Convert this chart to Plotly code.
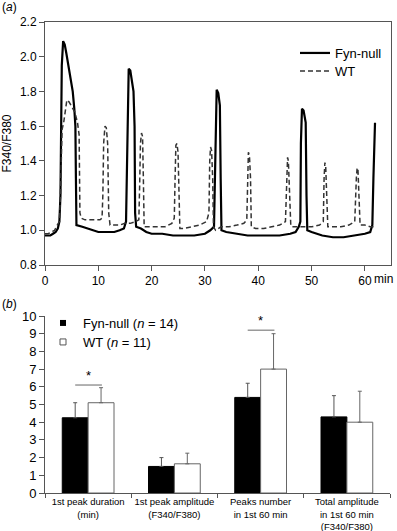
import plotly.graph_objects as go

# ---------------- data: panel (a) ----------------
time_fyn = [0, 0.5, 1, 1.5, 2, 2.4, 2.7, 2.9, 3.0, 3.15, 3.4, 3.7, 4.0, 4.4, 4.8, 5.2, 5.5, 5.7, 5.8, 5.9,
            7, 8, 9, 10, 11, 12, 13, 14, 14.8, 15.2, 15.4, 15.55, 15.7, 16.0, 16.3, 16.6, 16.8, 16.9, 17.1,
            18, 19, 20, 22, 24, 26, 28, 30, 31, 31.7, 31.95, 32.05, 32.2, 32.5, 32.8, 32.95, 33.1,
            34, 36, 38, 40, 42, 44, 46, 47, 47.6, 47.9, 48.0, 48.2, 48.5, 48.9, 49.05, 49.2,
            50, 52, 54, 56, 58, 60, 61, 61.4, 61.6, 61.9]
ratio_fyn = [0.97, 0.97, 0.97, 0.98, 0.99, 1.01, 1.05, 1.2, 1.6, 1.95, 2.09, 2.07, 2.02, 1.95, 1.88, 1.8, 1.7, 1.6, 1.3, 1.03,
             1.02, 1.01, 1.0, 0.99, 0.99, 0.99, 0.99, 1.0, 1.01, 1.05, 1.4, 1.88, 1.93, 1.92, 1.87, 1.8, 1.6, 1.1, 1.02,
             1.01, 0.99, 0.98, 0.98, 0.97, 0.97, 0.97, 0.98, 1.0, 1.02, 1.4, 1.75, 1.81, 1.79, 1.72, 1.3, 1.0,
             0.99, 0.98, 0.97, 0.97, 0.97, 0.97, 0.98, 0.99, 1.02, 1.05, 1.5, 1.70, 1.69, 1.62, 1.2, 1.0,
             0.99, 0.97, 0.96, 0.96, 0.97, 0.98, 0.99, 1.03, 1.3, 1.62]

time_wt = [0, 0.6, 1.2, 1.8, 2.3, 2.7, 2.9, 3.05, 3.2, 3.5, 3.8, 4.1, 4.5, 5.0, 5.6, 6.1, 6.4, 6.55, 6.8,
           7.5, 8.5, 9.5, 10.3, 10.7, 10.85, 11.0, 11.25, 11.5, 11.75, 11.95, 12.2, 13, 14, 15, 16, 17,
           17.6, 17.75, 17.9, 18.1, 18.3, 18.45, 18.6, 19.5, 21, 22.5, 23.8, 24.25, 24.4, 24.55, 24.75, 24.95,
           25.15, 25.3, 26, 27.5, 29, 30.3, 30.75, 30.9, 31.05, 31.25, 31.45, 31.6, 32, 33, 34.5, 36, 37.3,
           37.85, 38.0, 38.15, 38.35, 38.55, 38.7, 39.5, 41, 42.5, 44, 45.1, 45.35, 45.5, 45.65, 45.85, 46.1,
           46.3, 47, 48.5, 50, 51.5, 52.2, 52.35, 52.5, 52.65, 52.85, 53.05, 53.2, 54, 55.5, 57, 58.1, 58.4,
           58.55, 58.7, 58.9, 59.1, 59.25, 60, 61, 62]
ratio_wt = [0.98, 0.98, 0.99, 1.0, 1.03, 1.05, 1.2, 1.45, 1.58, 1.62, 1.7, 1.75, 1.74, 1.71, 1.68, 1.62, 1.55, 1.1, 1.07,
            1.06, 1.06, 1.06, 1.06, 1.07, 1.2, 1.5, 1.6, 1.59, 1.5, 1.1, 1.03, 1.03, 1.03, 1.04, 1.04, 1.05,
            1.06, 1.25, 1.5, 1.56, 1.54, 1.3, 1.02, 1.02, 1.02, 1.02, 1.04, 1.07, 1.3, 1.49, 1.50, 1.45,
            1.2, 1.01, 1.01, 1.02, 1.03, 1.05, 1.1, 1.4, 1.48, 1.46, 1.3, 1.02, 1.0, 1.02, 1.02, 1.03, 1.04,
            1.06, 1.35, 1.45, 1.43, 1.3, 1.02, 1.01, 1.01, 1.02, 1.03, 1.05, 1.3, 1.42, 1.40, 1.25, 1.03,
            1.02, 1.02, 1.02, 1.02, 1.03, 1.05, 1.3, 1.39, 1.37, 1.2, 1.02, 1.02, 1.02, 1.02, 1.03, 1.05, 1.3,
            1.36, 1.35, 1.2, 1.03, 1.03, 1.03, 1.02, 1.02]

time_ticks = [0, 10, 20, 30, 40, 50, 60]
time_ticktext = ["0", "10", "20", "30", "40", "50", "60"]
ratio_ticks = [0.8, 1.0, 1.2, 1.4, 1.6, 1.8, 2.0, 2.2]

# ---------------- data: panel (b) ----------------
categories = ["1st peak duration<br>(min)", "1st peak amplitude<br>(F340/F380)",
              "Peaks number<br>in 1st 60 min", "Total amplitude<br>in 1st 60 min<br>(F340/F380)"]
fyn_mean = [4.25, 1.5, 5.4, 4.3]
fyn_err = [0.85, 0.5, 0.8, 1.2]
wt_mean = [5.1, 1.65, 7.0, 4.0]
wt_err = [0.85, 0.6, 2.0, 1.75]
sig_categories = [0, 2]
sig_levels = [6.1, 9.2]

# ---------------- layout geometry ----------------
W, H = 397, 531
ML, MR, MT, MB = 45, 6, 22, 38
PW, PH = W - ML - MR, H - MT - MB


def px(x, y):
    return (x - ML) / PW, (H - MB - y) / PH


FONT = "Liberation Sans, Arial, sans-serif"
AX = "#555555"

fig = go.Figure()

fig.add_trace(go.Scatter(x=time_fyn, y=ratio_fyn, mode="lines", name="Fyn-null",
                         line=dict(color="black", width=2.2), xaxis="x", yaxis="y", legend="legend"))
fig.add_trace(go.Scatter(x=time_wt, y=ratio_wt, mode="lines", name="WT",
                         line=dict(color="#333333", width=1.5, dash="5px,3px"),
                         xaxis="x", yaxis="y", legend="legend3"))

fig.add_trace(go.Bar(x=categories, y=fyn_mean, name="Fyn-null (<i>n</i> = 14)", showlegend=False,
                     marker=dict(color="black", line=dict(color="black", width=1)),
                     error_y=dict(type="data", array=fyn_err, arrayminus=[0] * 4, symmetric=False,
                                  color="#555555", thickness=1, width=2),
                     xaxis="x2", yaxis="y2"))
fig.add_trace(go.Bar(x=categories, y=wt_mean, name="WT (<i>n</i> = 11)", showlegend=False,
                     marker=dict(color="white", line=dict(color="#666666", width=1)),
                     error_y=dict(type="data", array=wt_err, arrayminus=[0] * 4, symmetric=False,
                                  color="#666666", thickness=1, width=2),
                     xaxis="x2", yaxis="y2"))
# legend entries for panel (b)
fig.add_trace(go.Scatter(x=[None], y=[None], mode="markers", name="Fyn-null (<i>n</i> = 14)",
                         marker=dict(symbol="square", size=6, color="black"),
                         xaxis="x2", yaxis="y2", legend="legend2"))
fig.add_trace(go.Scatter(x=[None], y=[None], mode="markers", name="WT (<i>n</i> = 11)",
                         marker=dict(symbol="square", size=6, color="white",
                                     line=dict(color="#555555", width=1)),
                         xaxis="x2", yaxis="y2", legend="legend4"))

top_lo = px(0, 265)[1]
bot_hi = px(0, 316)[1]

shapes = []
annotations = []
for c, lvl in zip(sig_categories, sig_levels):
    shapes.append(dict(type="line", xref="x2", yref="y2", x0=c - 0.15, x1=c + 0.16, y0=lvl, y1=lvl,
                       line=dict(color="#666666", width=1)))
    annotations.append(dict(xref="x2", yref="y2", x=c, y=lvl, text="*", showarrow=False,
                            yanchor="bottom", font=dict(size=13, color="black", family=FONT)))

ax_, ay_ = px(0, 7)
annotations.append(dict(xref="paper", yref="paper", x=ax_, y=ay_, text="(<i>a</i>)", showarrow=False,
                        xanchor="left", yanchor="middle", font=dict(size=12, color="black", family=FONT)))
bx_, by_ = px(0, 304)
annotations.append(dict(xref="paper", yref="paper", x=bx_, y=by_, text="(<i>b</i>)", showarrow=False,
                        xanchor="left", yanchor="middle", font=dict(size=12, color="black", family=FONT)))
mx_, my_ = px(372, 279)
annotations.append(dict(xref="paper", yref="paper", x=mx_, y=my_, text="min", showarrow=False,
                        xanchor="left", yanchor="middle", font=dict(size=12, color="black", family=FONT)))


def leg(xp, yp):
    lx, ly = px(xp, yp)
    return dict(x=lx, y=ly, xanchor="left", yanchor="top", bgcolor="rgba(0,0,0,0)",
                font=dict(size=13), tracegroupgap=0, itemwidth=30)


fig.update_layout(
    width=W, height=H,
    margin=dict(l=ML, r=MR, t=MT, b=MB, autoexpand=False),
    paper_bgcolor="white", plot_bgcolor="white",
    font=dict(family=FONT, size=12, color="black"),
    barmode="group", bargap=0.4, bargroupgap=0,
    xaxis=dict(domain=[0, 1], anchor="y", range=[0, 64.9], tickvals=time_ticks, ticktext=time_ticktext,
               ticks="outside", ticklen=5, tickcolor=AX, showline=True, linecolor=AX, mirror=True,
               showgrid=False, zeroline=False, tickfont=dict(size=12), automargin=False),
    yaxis=dict(domain=[top_lo, 1], anchor="x", range=[0.8, 2.2], tickvals=ratio_ticks, tickformat=".1f",
               ticks="outside", ticklen=5, tickcolor=AX, showline=True, linecolor=AX, mirror=True,
               showgrid=False, zeroline=False, tickfont=dict(size=12), automargin=False,
               title=dict(text="F340/F380", font=dict(size=12), standoff=6)),
    xaxis2=dict(domain=[0, 1 - 1 / PW], anchor="y2", type="category", ticks="outside", ticklen=4,
                tickson="boundaries", tickcolor=AX, showline=True, linecolor=AX, showgrid=False,
                tickfont=dict(size=9.5), tickangle=0, automargin=False),
    yaxis2=dict(domain=[0, bot_hi], anchor="x2", range=[0, 10], dtick=1, ticks="outside", ticklen=5,
                tickcolor=AX, showline=True, linecolor=AX, showgrid=False, zeroline=False,
                tickfont=dict(size=13), automargin=False),
    legend=leg(295, 38),
    legend3=leg(295, 56),
    legend2=leg(43, 308),
    legend4=leg(43, 327),
    shapes=shapes,
    annotations=annotations,
)

fig.write_html("out.html", post_script="document.body.style.margin='0';",
               config={"displayModeBar": False})
